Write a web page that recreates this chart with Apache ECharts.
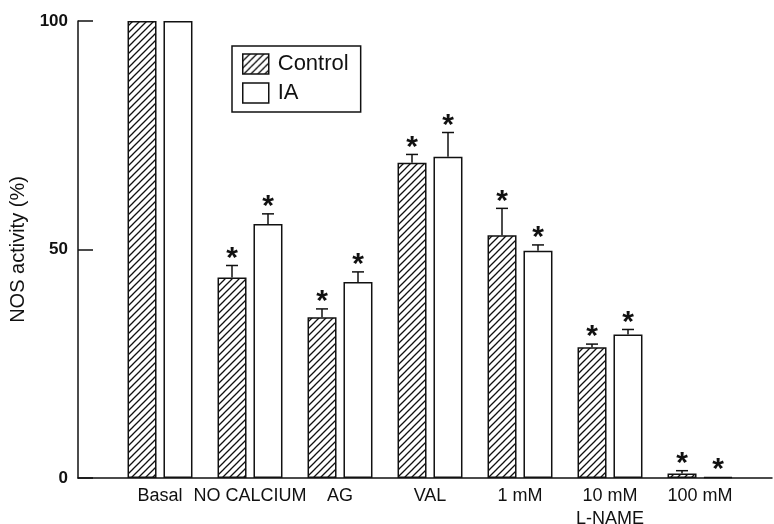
<!DOCTYPE html>
<html>
<head>
<meta charset="utf-8">
<script src="https://cdn.jsdelivr.net/npm/echarts@6/dist/echarts.min.js"></script>
<style>
html,body{margin:0;padding:0;background:#fff;}
#chart{width:774px;height:524px;}
</style>
</head>
<body>
<div id="chart"></div>
<script>
// ---- data ----
const categories = ['Basal', 'NO CALCIUM', 'AG', 'VAL', '1 mM', '10 mM\nL-NAME', '100 mM'];
const controlValues = [100, 43.9, 35.2, 69.0, 53.1, 28.6, 1.0];
const controlErrors = [0, 2.6, 1.8, 1.8, 5.9, 0.7, 0.6];
const iaValues = [100, 55.6, 42.9, 70.3, 49.7, 31.4, 0.2];
const iaErrors = [0, 2.2, 2.2, 5.3, 1.3, 1.1, 0];
const controlSignificant = [false, true, true, true, true, true, true];
const iaSignificant = [false, true, true, true, true, true, true];
const yTicks = [0, 50, 100];

const INK = '#111';
const FONT = '"Liberation Sans", Arial, sans-serif';

function hatchPattern() {
  const s = 7;
  const c = document.createElement('canvas');
  c.width = s; c.height = s;
  const g = c.getContext('2d');
  g.fillStyle = '#fff';
  g.fillRect(0, 0, s, s);
  g.strokeStyle = INK;
  g.lineWidth = 1.3;
  g.beginPath();
  g.moveTo(-1, s + 1); g.lineTo(s + 1, -1);
  g.moveTo(-2, 2); g.lineTo(2, -2);
  g.moveTo(s - 2, s + 2); g.lineTo(s + 2, s - 2);
  g.stroke();
  return c;
}

const BAR_W = 29;
const HALF_SPACING = 18;

function errorSeries(name, values, errors, sig, side) {
  return {
    name: name + ' err',
    type: 'custom',
    xAxisIndex: 0, yAxisIndex: 0,
    z: 5,
    silent: true,
    data: values.map((v, i) => [i, v, errors[i], sig[i] ? 1 : 0]),
    renderItem: function (params, api) {
      const idx = api.value(0), v = api.value(1), e = api.value(2), s = api.value(3);
      const base = api.coord([idx, v]);
      const x = base[0] + side * HALF_SPACING;
      const topY = api.coord([idx, v + e])[1];
      const children = [];
      if (e > 0) {
        children.push({ type: 'line', shape: { x1: x, y1: base[1], x2: x, y2: topY }, style: { stroke: INK, lineWidth: 1.5 } });
        children.push({ type: 'line', shape: { x1: x - 6, y1: topY, x2: x + 6, y2: topY }, style: { stroke: INK, lineWidth: 1.5 } });
      }
      if (s) {
        children.push({ type: 'text', style: { x: x, y: topY - 10, text: '*', fill: INK, font: 'bold 30px ' + FONT, align: 'center', verticalAlign: 'top' }, position: [0, -12] });
      }
      return { type: 'group', children: children };
    }
  };
}

const chart = echarts.init(document.getElementById('chart'), null, { renderer: 'canvas' });
const hatch = hatchPattern();

chart.setOption({
  animation: false,
  backgroundColor: '#fff',
  grid: [
    { left: 115, right: 29, top: 21, bottom: 46, outerBoundsMode: 'none', containLabel: false },
    { left: 78, right: 2, top: 21, bottom: 46, outerBoundsMode: 'none', containLabel: false }
  ],
  legend: {
    left: 232, top: 46,
    orient: 'vertical',
    data: ['Control', 'IA'],
    icon: 'rect',
    itemWidth: 26, itemHeight: 20, itemGap: 7,
    padding: [7, 12, 8, 10],
    borderColor: INK, borderWidth: 1.5,
    itemStyle: { borderColor: INK, borderWidth: 1.5 },
    textStyle: { fontFamily: FONT, fontSize: 22, color: INK, padding: [0, 0, 0, 4] }
  },
  xAxis: [
    {
      type: 'category', gridIndex: 0, data: categories,
      axisLine: { show: false }, axisTick: { show: false },
      axisLabel: { fontFamily: FONT, fontSize: 18, color: INK, margin: 7, lineHeight: 23, interval: 0 }
    },
    {
      type: 'value', gridIndex: 1, min: 0, max: 1,
      axisLine: { show: true, lineStyle: { color: INK, width: 1.5 } },
      axisTick: { show: false }, axisLabel: { show: false }, splitLine: { show: false }
    }
  ],
  yAxis: [
    {
      type: 'value', gridIndex: 0, min: yTicks[0], max: yTicks[yTicks.length - 1], interval: 50,
      offset: 37,
      name: 'NOS activity (%)', nameLocation: 'middle', nameGap: 36, nameRotate: 90,
      nameTextStyle: { fontFamily: FONT, fontSize: 20, color: INK },
      axisLine: { show: true, lineStyle: { color: INK, width: 1.5 } },
      axisTick: { show: true, inside: true, length: 15, lineStyle: { color: INK, width: 1.5 } },
      axisLabel: { fontFamily: FONT, fontSize: 17, fontWeight: 'bold', color: INK, margin: 10 },
      splitLine: { show: false }
    },
    { type: 'value', gridIndex: 1, min: 0, max: 1, show: false }
  ],
  series: [
    {
      name: 'Control', type: 'bar', xAxisIndex: 0, yAxisIndex: 0,
      data: controlValues, barWidth: BAR_W, barGap: '24%',
      itemStyle: { color: { image: hatch, repeat: 'repeat' }, borderColor: INK, borderWidth: 1.5 }
    },
    {
      name: 'IA', type: 'bar', xAxisIndex: 0, yAxisIndex: 0,
      data: iaValues, barWidth: BAR_W, barGap: '24%',
      itemStyle: { color: '#fff', borderColor: INK, borderWidth: 1.5 }
    },
    errorSeries('Control', controlValues, controlErrors, controlSignificant, -1),
    errorSeries('IA', iaValues, iaErrors, iaSignificant, 1)
  ]
});
</script>
</body>
</html>
